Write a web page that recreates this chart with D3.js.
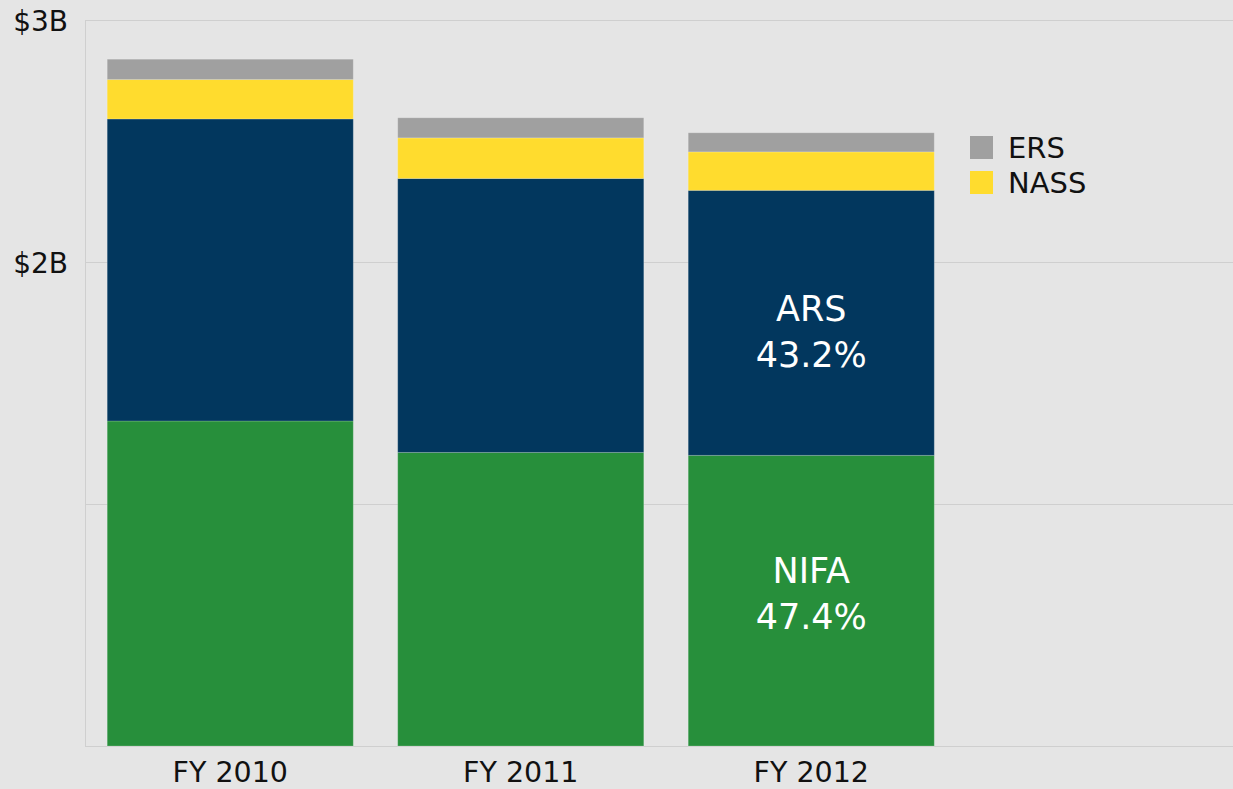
<!DOCTYPE html>
<html>
<head>
<meta charset="utf-8">
<script src="https://cdn.jsdelivr.net/npm/d3@7"></script>
<style>
	body { margin: 0; background: #e5e5e5; }
	svg { display: block; font-family: "DejaVu Sans", Verdana, sans-serif; }
</style>
</head>
<body>
<div id="chart-area"></div>
<script>
// Data (billions of dollars)
let years = ["FY 2010", "FY 2011", "FY 2012"];
let agencies = ["NIFA", "ARS", "NASS", "ERS"];
let nifa = [1.343, 1.213, 1.201];
let ars = [1.248, 1.132, 1.095];
let nass = [0.163, 0.168, 0.159];
let ers = [0.084, 0.083, 0.079];
let yTicks = [0, 1, 2, 3];
let yTickLabels = ["", "", "$2B", "$3B"];
let legendItems = ["ERS", "NASS"];
let segLabels = [
	{ year: "FY 2012", key: "ARS", lines: ["ARS", "43.2%"], shift: 9 },
	{ year: "FY 2012", key: "NIFA", lines: ["NIFA", "47.4%"], shift: -7 }
];

let margin = { left: 85, right: 0, top: 20, bottom: 43 };
let fullW = 1233, fullH = 789;
let height = fullH - margin.top - margin.bottom;

let colors = d3.scaleOrdinal()
	.domain(agencies)
	.range(["#278f3b", "#02375e", "#ffdc2e", "#a0a0a0"]);

let table = years.map((yr, i) => ({ year: yr, NIFA: nifa[i], ARS: ars[i], NASS: nass[i], ERS: ers[i] }));
let series = d3.stack().keys(agencies)(table);

let svg = d3.select("#chart-area")
	.append("svg")
	.attr("width", fullW)
	.attr("height", fullH);

let g = svg.append("g")
	.attr("transform", "translate(" + margin.left + ", " + margin.top + ")");

let x = d3.scaleBand()
	.domain(years)
	.range([0, 871.5])
	.paddingInner(0.153)
	.paddingOuter(0.0765);

let y = d3.scaleLinear()
	.domain([0, 3])
	.range([height, 0]);

// Gridlines
g.selectAll(".grid")
	.data(yTicks)
	.enter()
	.append("line")
	.attr("class", "grid")
	.attr("x1", 0)
	.attr("x2", fullW - margin.left)
	.attr("y1", d => y(d) + 0.5)
	.attr("y2", d => y(d) + 0.5)
	.attr("stroke", "#cfcfcf")
	.attr("stroke-width", 1);

g.append("line")
	.attr("x1", 0.5).attr("x2", 0.5)
	.attr("y1", y(3)).attr("y2", y(0) + 1)
	.attr("stroke", "#cfcfcf");

// Y axis
let yAxisCall = d3.axisLeft(y)
	.tickValues(yTicks)
	.tickSize(0)
	.tickPadding(17)
	.tickFormat((d, i) => yTickLabels[i]);
let yAxis = g.append("g")
	.attr("class", "y axis")
	.call(yAxisCall);
yAxis.select(".domain").remove();
yAxis.selectAll("text")
	.attr("font-size", "28px")
	.attr("font-family", "DejaVu Sans, Verdana, sans-serif")
	.attr("fill", "#111")
	.attr("dy", "0.36em");

// Bars
g.selectAll(".layer")
	.data(series)
	.enter()
	.append("g")
	.attr("class", "layer")
	.attr("fill", d => colors(d.key))
	.selectAll("rect")
	.data(d => d)
	.enter()
	.append("rect")
	.attr("x", d => x(d.data.year))
	.attr("width", x.bandwidth())
	.attr("y", d => y(d[1]))
	.attr("height", d => y(d[0]) - y(d[1]))
	.attr("stroke", "rgba(255,255,255,0.18)")
	.attr("stroke-width", 1);

// X axis
let xAxisCall = d3.axisBottom(x)
	.tickSize(0)
	.tickPadding(16);
let xAxis = g.append("g")
	.attr("class", "x axis")
	.attr("transform", "translate(0," + height + ")")
	.call(xAxisCall);
xAxis.select(".domain").remove();
xAxis.selectAll("text")
	.attr("font-size", "28.5px")
	.attr("font-family", "DejaVu Sans, Verdana, sans-serif")
	.attr("fill", "#111");

// Segment labels
segLabels.forEach((lab) => {
	let layer = series.find(s => s.key === lab.key);
	let seg = layer[years.indexOf(lab.year)];
	let mid = (y(seg[0]) + y(seg[1])) / 2 + lab.shift;
	let t = g.append("text")
		.attr("x", x(lab.year) + x.bandwidth() / 2)
		.attr("y", mid - 11)
		.attr("text-anchor", "middle")
		.attr("font-size", "35px")
		.attr("fill", "#fff");
	lab.lines.forEach((line, i) => {
		t.append("tspan")
			.attr("x", x(lab.year) + x.bandwidth() / 2)
			.attr("dy", i === 0 ? 0 : 46)
			.text(line);
	});
});

// Legend
let legend = g.append("g")
	.attr("transform", "translate(" + (x.range()[1] + 13.5) + "," + 116 + ")");

legendItems.forEach((value, index) => {
	let legendRow = legend.append("g")
		.attr("transform", "translate(0, " + (index * 35) + ")");

	legendRow.append("rect")
		.attr("width", 23)
		.attr("height", 23)
		.attr("fill", colors(value));

	legendRow.append("text")
		.attr("x", 38)
		.attr("y", 22)
		.attr("font-size", "29px")
		.attr("fill", "#111")
		.text(value);
});
</script>
</body>
</html>
